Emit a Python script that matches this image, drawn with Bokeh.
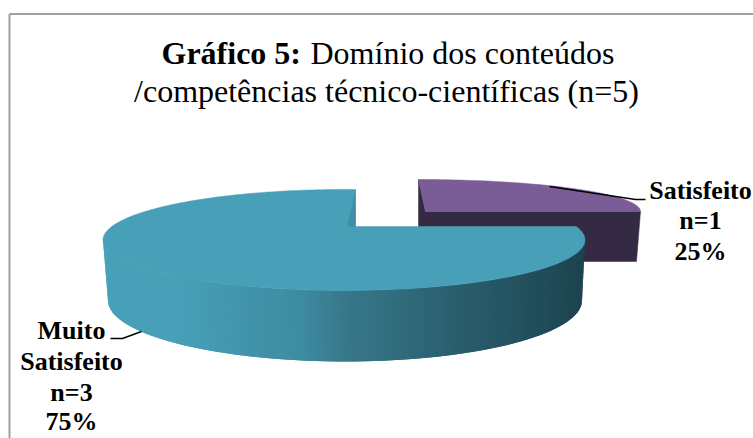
import numpy as np
from bokeh.embed import file_html
from bokeh.models import Range1d
from bokeh.plotting import figure
from bokeh.core.properties import value
from bokeh.resources import INLINE

# ---- data
categories = ["Satisfeito", "Muito Satisfeito"]
counts = [1, 3]
percent_labels = ["25%", "75%"]
total_n = 5

FONT = value("Liberation Serif")

p = figure(width=753, height=438, output_backend="svg", toolbar_location=None,
           x_range=Range1d(0, 753), y_range=Range1d(438, 0),
           min_border=0, outline_line_color=None, background_fill_color="white")
p.axis.visible = False
p.grid.visible = False

shares = np.array(counts, dtype=float) / sum(counts)
sweep = shares * 2 * np.pi


def lerp_colour(t):
    stops = [(0.0, (71, 160, 184)), (0.15, (71, 160, 184)), (0.4, (62, 140, 162)),
             (0.5, (56, 120, 138)), (0.7, (44, 98, 114)), (1.0, (29, 68, 79))]
    xs = [s[0] for s in stops]
    rgb = [int(np.interp(t, xs, [s[1][i] for s in stops])) for i in range(3)]
    return "#%02x%02x%02x" % tuple(rgb)


# ---- Satisfeito, pulled out slice
pc, pa, pb = (418, 211), 222, 32
apex_p = (425, 211)
th = np.linspace(0, sweep[0], 60)
arc_x = pc[0] + pa * np.sin(th)
arc_y = pc[1] - pb * np.cos(th)
dark_x = [arc_x[0], apex_p[0], arc_x[-1], arc_x[-1] - 4, arc_x[0]]
dark_y = [arc_y[0], apex_p[1], arc_y[-1], arc_y[-1] + 50, arc_y[-1] + 50]
p.patch(dark_x, dark_y, fill_color="#352a44", line_color="#352a44", line_width=0.5)
p.patch(list(arc_x) + [apex_p[0]], list(arc_y) + [apex_p[1]],
        fill_color="#7a5c96", line_color="#7a5c96", line_width=0.5)

# ---- Muito Satisfeito
tc, ta, tb = (343.5, 239.5), 241, 50.5     # top rim
bc, ba, bb = (344.5, 300), 237, 61         # bottom rim
apex_t = np.array([355.0, 226.0])


def ray_to_rim(theta):
    d = np.array([np.sin(theta) * ta, -np.cos(theta) * tb])
    o = apex_t - np.array(tc)
    A = (d[0] / ta) ** 2 + (d[1] / tb) ** 2
    B = 2 * (o[0] * d[0] / ta ** 2 + o[1] * d[1] / tb ** 2)
    C = (o[0] / ta) ** 2 + (o[1] / tb) ** 2 - 1
    s = (-B + np.sqrt(B * B - 4 * A * C)) / (2 * A)
    return apex_t + s * d


# outer wall, shaded left to right; each strip overlaps the next to avoid seams
n = 130
ts = np.linspace(np.pi, 2 * np.pi, n + 1)
xs_s, ys_s, cols = [], [], []
for i in range(n):
    t0, t1 = ts[i], ts[min(i + 2, n)]
    xs_s.append([tc[0] + ta * np.cos(t0), tc[0] + ta * np.cos(t1),
                 bc[0] + ba * np.cos(t1), bc[0] + ba * np.cos(t0)])
    ys_s.append([tc[1] - tb * np.sin(t0), tc[1] - tb * np.sin(t1),
                 bc[1] - bb * np.sin(t1), bc[1] - bb * np.sin(t0)])
    cols.append(lerp_colour((np.cos(ts[i]) + 1) / 2))
p.patches(xs_s, ys_s, fill_color=cols, line_color=None)

# top face, clockwise from the end of the first slice
th2 = np.linspace(sweep[0], sweep[0] + sweep[1], 240)
rim = np.array([ray_to_rim(t) for t in th2])
p.patch(list(rim[:, 0]) + [apex_t[0]], list(rim[:, 1]) + [apex_t[1]],
        fill_color="#47a0b8", line_color="#47a0b8", line_width=0.5)

# inner wall seen through the gap
back = rim[-1]
p.patch([back[0], apex_t[0], apex_t[0] - 8], [back[1], apex_t[1], apex_t[1]],
        fill_color="#3f90a6", line_color="#3f90a6", line_width=0.3)

# ---- frame
p.line([9, 9], [438, 13.5], line_color="#a0a0a0", line_width=2)
p.line([9, 753], [13.5, 13.5], line_color="#a0a0a0", line_width=2)

# ---- leaders
p.line([549, 635, 645], [186, 199, 199], line_color="black", line_width=1.5)
p.line([110, 122, 141], [338, 338, 331], line_color="black", line_width=1.5)

# ---- title
p.text([161], [52], text=["Gráfico 5:"], text_font=FONT, text_font_style="bold",
       text_font_size="32px", text_color="black", text_baseline="middle")
p.text([310], [52], text=["Domínio dos conteúdos"], text_font=FONT,
       text_font_size="32px", text_color="black", text_baseline="middle")
p.text([386], [90], text=[f"/competências técnico-científicas (n={total_n})"], text_font=FONT,
       text_font_size="32px", text_color="black", text_align="center", text_baseline="middle")

# ---- labels
sat = [categories[0], f"n={counts[0]}", percent_labels[0]]
for txt, y in zip(sat, [190, 220, 251]):
    p.text([700], [y], text=[txt], text_font=FONT, text_font_style="bold", text_font_size="26px",
           text_color="black", text_align="center", text_baseline="middle")
mui = ["Muito", "Satisfeito", f"n={counts[1]}", percent_labels[1]]
for txt, y in zip(mui, [330, 361, 392, 421]):
    p.text([71], [y], text=[txt], text_font=FONT, text_font_style="bold", text_font_size="26px",
           text_color="black", text_align="center", text_baseline="middle")

open("out.html", "w").write(file_html(p, INLINE))
